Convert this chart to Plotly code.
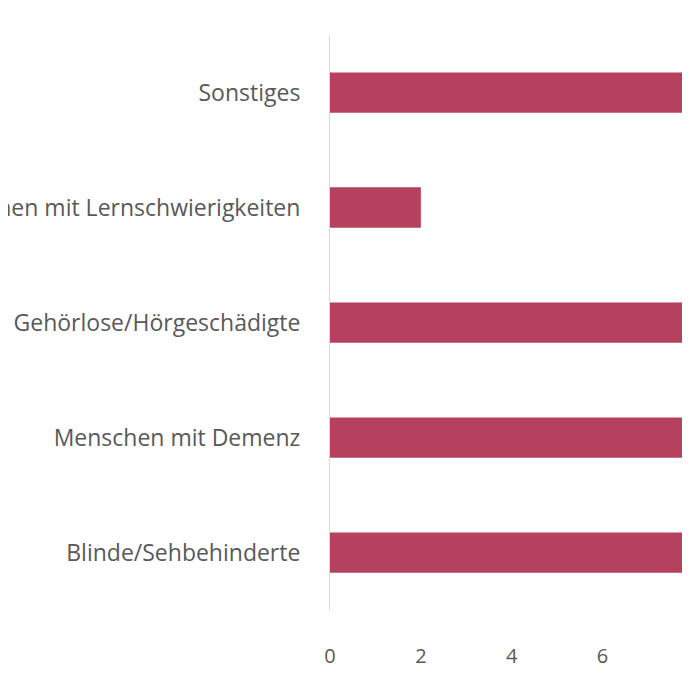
import plotly.graph_objects as go

categories = ["Blinde/Sehbehinderte", "Menschen mit Demenz", "Gehörlose/Hörgeschädigte",
              "Menschen mit Lernschwierigkeiten", "Sonstiges"]
values = [12, 11, 13, 2, 10]
tick_vals = [0, 2, 4, 6, 8]

fig = go.Figure(go.Bar(
    y=categories, x=values, orientation="h",
    marker=dict(color="#b5415f", line=dict(width=0)),
    width=0.35,
))

fig.update_layout(
    width=690, height=690,
    margin=dict(l=322, r=0, t=27, b=88),
    plot_bgcolor="white", paper_bgcolor="white",
    font=dict(family="Open Sans, DejaVu Sans", size=23, color="#595959"),
    showlegend=False,
    xaxis=dict(range=[0, 8.1], tickvals=tick_vals, showgrid=False, zeroline=False,
               ticks="outside", ticklen=28, tickcolor="rgba(0,0,0,0)",
               tickfont=dict(size=20)),
    yaxis=dict(showgrid=False, showline=True, linecolor="#d9d9d9", linewidth=1,
               ticks="outside", ticklen=24, tickcolor="rgba(0,0,0,0)",
               automargin=False),
)

fig.write_html("out.html")
